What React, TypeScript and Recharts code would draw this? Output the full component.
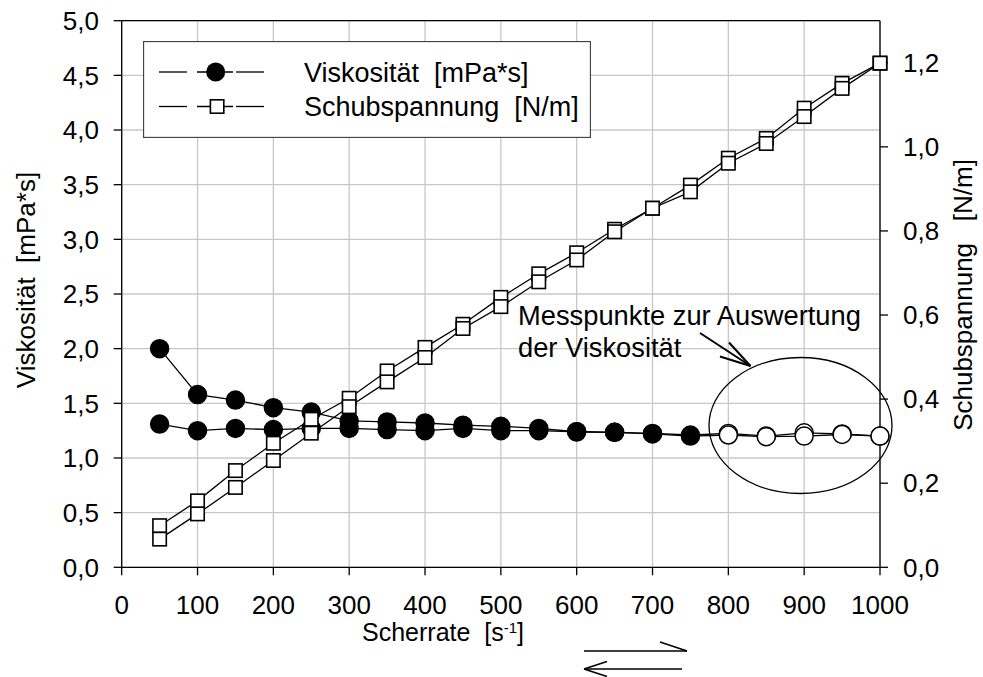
import React from 'react';
import {
  ComposedChart,
  Line,
  XAxis,
  YAxis,
  CartesianGrid,
  ReferenceLine,
  Legend,
} from 'recharts';

// Scherrate [1/s]
const shearRate = [50, 100, 150, 200, 250, 300, 350, 400, 450, 500, 550, 600, 650, 700, 750, 800, 850, 900, 950, 1000];

// Viskosität [mPa*s], two sweeps
const viscosityA = [2.0, 1.58, 1.53, 1.46, 1.42, 1.34, 1.33, 1.32, 1.3, 1.29, 1.27, 1.24, 1.235, 1.225, 1.21, 1.225, 1.2, 1.23, 1.22, 1.2];
const viscosityB = [1.31, 1.25, 1.27, 1.26, 1.27, 1.27, 1.26, 1.25, 1.27, 1.25, 1.25, 1.24, 1.235, 1.22, 1.2, 1.21, 1.195, 1.2, 1.215, 1.2];

// Schubspannung [N/m], two sweeps
const stressA = [0.099, 0.158, 0.23, 0.295, 0.352, 0.402, 0.467, 0.523, 0.578, 0.642, 0.698, 0.748, 0.804, 0.854, 0.909, 0.973, 1.02, 1.092, 1.151, 1.199];
const stressB = [0.067, 0.127, 0.19, 0.254, 0.319, 0.382, 0.441, 0.499, 0.568, 0.62, 0.679, 0.731, 0.798, 0.854, 0.893, 0.961, 1.008, 1.072, 1.139, 1.199];

const xTicks = [0, 100, 200, 300, 400, 500, 600, 700, 800, 900, 1000];
const viscTicks = [0, 0.5, 1, 1.5, 2, 2.5, 3, 3.5, 4, 4.5, 5];
const stressTicks = [0, 0.2, 0.4, 0.6, 0.8, 1.0, 1.2];

// open markers from here on (Messpunkte zur Auswertung)
const evalFrom = 800;

const legendLabels = ['Viskosität  [mPa*s]', 'Schubspannung  [N/m]'];

const FONT = '"Liberation Sans", Arial, sans-serif';
const W = 983;
const H = 677;

const data = shearRate.map((x, i) => ({
  x,
  viscA: viscosityA[i],
  viscB: viscosityB[i],
  stressA: stressA[i],
  stressB: stressB[i],
}));

const comma = (d: number) => (v: number) => v.toFixed(d).replace('.', ',');

function CircleDot(props: any) {
  const { cx, cy, payload, index } = props;
  if (cx == null || cy == null) return null;
  const open = payload.x >= evalFrom;
  return (
    <circle
      key={`c-${index}`}
      cx={cx}
      cy={cy}
      r={9}
      fill={open ? '#fff' : '#000'}
      stroke="#000"
      strokeWidth={1.5}
    />
  );
}

function SquareDot(props: any) {
  const { cx, cy, index } = props;
  if (cx == null || cy == null) return null;
  const s = 13.4;
  return (
    <rect
      key={`s-${index}`}
      x={cx - s / 2}
      y={cy - s / 2}
      width={s}
      height={s}
      fill="#fff"
      stroke="#000"
      strokeWidth={1.6}
    />
  );
}

function LegendBox() {
  return (
    <svg width={448} height={97} style={{ display: 'block' }}>
      <rect x={0.5} y={0.5} width={447} height={96} fill="#fff" stroke="#444" strokeWidth={1.3} />
      {legendLabels.map((label, i) => {
        const y = 31 + i * 34.5;
        return (
          <g key={label}>
            <line x1={16} x2={44} y1={y} y2={y} stroke="#000" strokeWidth={1.3} />
            <line x1={54} x2={90} y1={y} y2={y} stroke="#000" strokeWidth={1.3} />
            <line x1={93} x2={121} y1={y} y2={y} stroke="#000" strokeWidth={1.3} />
            {i === 0 ? (
              <circle cx={72.7} cy={y} r={9.5} fill="#000" />
            ) : (
              <rect x={67.4} y={y - 6.7} width={13.4} height={13.4} fill="#fff" stroke="#000" strokeWidth={1.6} />
            )}
            <text
              x={161}
              y={y + 9.5}
              fontSize={27}
              fontFamily={FONT}
              fill="#000"
              style={{ whiteSpace: 'pre' }}
            >
              {label}
            </text>
          </g>
        );
      })}
    </svg>
  );
}

function Annotations() {
  return (
    <svg
      width={W}
      height={H}
      style={{ position: 'absolute', left: 0, top: 0, pointerEvents: 'none' }}
      fontFamily={FONT}
    >
      <text
        transform="translate(35,280) rotate(-90)"
        textAnchor="middle"
        fontSize={26}
        fill="#000"
        style={{ whiteSpace: 'pre' }}
      >
        Viskosität  [mPa*s]
      </text>
      <text
        transform="translate(972,295) rotate(-90)"
        textAnchor="middle"
        fontSize={26}
        fill="#000"
        style={{ whiteSpace: 'pre' }}
      >
        Schubspannung   [N/m]
      </text>
      <text x={362} y={641} fontSize={25} fill="#000" style={{ whiteSpace: 'pre' }}>
        Scherrate  [s
        <tspan fontSize={15} dy={-8}>-1</tspan>
        <tspan dy={8}>]</tspan>
      </text>
      {/* sweep direction arrows */}
      <g stroke="#000" strokeWidth={1.6} fill="none">
        <line x1={584} y1={651} x2={687} y2={651} />
        <line x1={660} y1={642} x2={687} y2={651} />
        <line x1={584} y1={669} x2={682} y2={669} />
        <line x1={584} y1={669} x2={607} y2={661.5} />
        <line x1={584} y1={669} x2={607} y2={676.5} />
      </g>
      <text x={518} y={325} fontSize={27.3} fill="#000">
        Messpunkte zur Auswertung
      </text>
      <text x={518} y={357} fontSize={27.3} fill="#000">
        der Viskosität
      </text>
      <g stroke="#000" strokeWidth={2} fill="none">
        <line x1={700} y1={333} x2={750.5} y2={366} />
        <line x1={729} y1={342.5} x2={750.5} y2={366} />
        <line x1={720} y1={356.5} x2={750.5} y2={366} />
      </g>
      <ellipse cx={800.5} cy={425.5} rx={91.5} ry={68} fill="none" stroke="#000" strokeWidth={1.3} />
    </svg>
  );
}

export default function App() {
  return (
    <div style={{ position: 'absolute', left: 0, top: 0, width: W, height: H, background: '#fff' }}>
      <ComposedChart
        width={W}
        height={H}
        data={data}
        margin={{ top: 20.7, right: 23, bottom: 49.7, left: 21.7 }}
      >
        <CartesianGrid yAxisId="left" stroke="#c8c8c8" strokeWidth={1.3} />
        <XAxis
          dataKey="x"
          type="number"
          domain={[0, 1000]}
          ticks={xTicks}
          interval={0}
          height={60}
          tickSize={8}
          tickMargin={20}
          axisLine={{ stroke: '#000', strokeWidth: 1.3 }}
          tickLine={{ stroke: '#000', strokeWidth: 1.3 }}
          tick={{ fill: '#000', fontSize: 26, fontFamily: FONT }}
        />
        <YAxis
          yAxisId="left"
          domain={[0, 5]}
          ticks={viscTicks}
          interval={0}
          width={100}
          tickSize={8}
          tickMargin={14.7}
          tickFormatter={comma(1)}
          axisLine={{ stroke: '#000', strokeWidth: 1.3 }}
          tickLine={{ stroke: '#000', strokeWidth: 1.3 }}
          tick={{ fill: '#000', fontSize: 26, fontFamily: FONT }}
        />
        <YAxis
          yAxisId="right"
          orientation="right"
          domain={[0, 1.3]}
          ticks={stressTicks}
          interval={0}
          width={80}
          tickSize={8}
          tickMargin={15}
          tickFormatter={comma(1)}
          axisLine={{ stroke: '#000', strokeWidth: 1.3 }}
          tickLine={{ stroke: '#000', strokeWidth: 1.3 }}
          tick={{ fill: '#000', fontSize: 26, fontFamily: FONT }}
        />
        <ReferenceLine yAxisId="left" y={5} stroke="#000" strokeWidth={1.3} />
        <Line yAxisId="left" dataKey="viscA" type="linear" stroke="#000" strokeWidth={1.3} dot={CircleDot} isAnimationActive={false} />
        <Line yAxisId="left" dataKey="viscB" type="linear" stroke="#000" strokeWidth={1.3} dot={CircleDot} isAnimationActive={false} />
        <Line yAxisId="right" dataKey="stressA" type="linear" stroke="#000" strokeWidth={1.3} dot={SquareDot} isAnimationActive={false} />
        <Line yAxisId="right" dataKey="stressB" type="linear" stroke="#000" strokeWidth={1.3} dot={SquareDot} isAnimationActive={false} />
        <Legend
          layout="horizontal"
          verticalAlign="middle"
          align="center"
          content={() => <LegendBox />}
          wrapperStyle={{ left: 143, top: 41, width: 448, height: 97 }}
        />
      </ComposedChart>
      <Annotations />
    </div>
  );
}
